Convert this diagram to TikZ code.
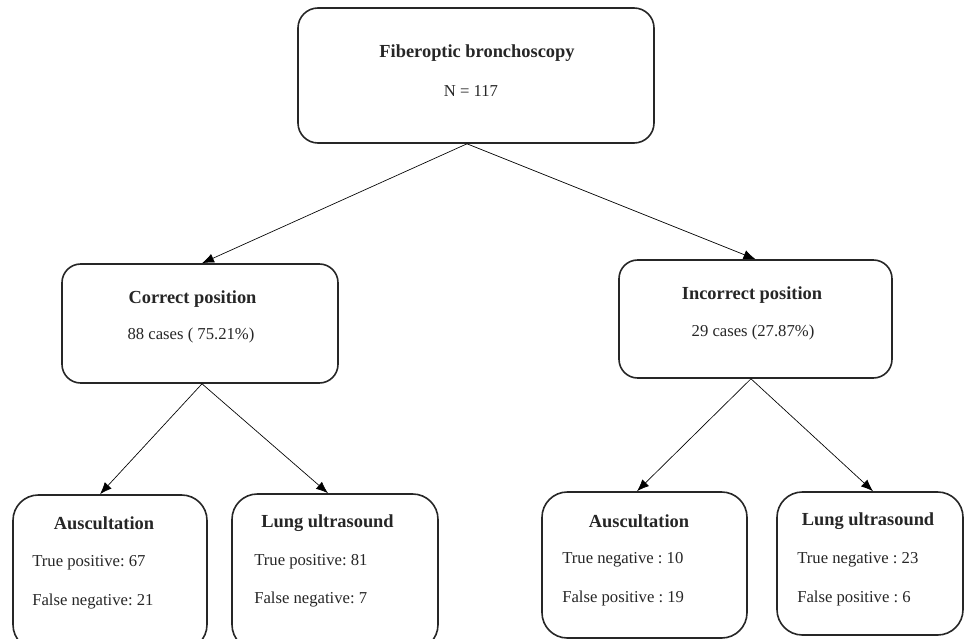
\documentclass[tikz,border=0pt]{standalone}
\usepackage{fontspec}
\setmainfont{Liberation Serif}
\usetikzlibrary{arrows.meta}
\frenchspacing
\tikzset{
  box/.style={draw=black!85, line width=1.2pt, inner sep=0pt, fill=white},
  ttl/.style={font=\fontsize{13.8}{16}\selectfont\bfseries, inner sep=0pt, text=black!85},
  txt/.style={font=\fontsize{12.5}{15}\selectfont, inner sep=0pt, text=black!85},
  ltxt/.style={txt, anchor=west},
  conn/.style={line width=0.5pt, -{Latex[length=9pt,width=7pt]}}
}
\begin{document}
\begin{tikzpicture}[x=0.75pt,y=-0.75pt]
\useasboundingbox (0,0) rectangle (964,639);
% boxes
\node[box, rounded corners=15pt, minimum width=267pt, minimum height=101.25pt] (top) at (476,75.5) {};
\node[box, rounded corners=14pt, minimum width=207pt, minimum height=89.25pt] (cor) at (200,323.5) {};
\node[box, rounded corners=14pt, minimum width=204.75pt, minimum height=88.5pt] (inc) at (755.5,319) {};
\node[box, rounded corners=19pt, minimum width=145.5pt, minimum height=116.25pt] (al) at (110,572.5) {};
\node[box, rounded corners=19pt, minimum width=154.5pt, minimum height=117pt] (ll) at (335,572) {};
\node[box, rounded corners=19pt, minimum width=153.75pt, minimum height=109.5pt] (ar) at (644.5,565) {};
\node[box, rounded corners=19pt, minimum width=139.5pt, minimum height=107.25pt] (lr) at (870,563.5) {};
% texts
\node[ttl] (topt) at (477,53) {Fiberoptic bronchoscopy};
\node[txt] (topn) at (471,91) {N = 117};
\node[ttl] (cort) at (192.5,299) {Correct position};
\node[txt] (corn) at (191,335) {88 cases ( 75.21\%)};
\node[ttl] (inct) at (752,295) {Incorrect position};
\node[txt] (incn) at (753,332) {29 cases (27.87\%)};
\node[ttl] (alt) at (104,523) {Auscultation};
\node[ltxt] (al1) at (32,563) {True positive: 67};
\node[ltxt] (al2) at (32,602) {False negative: 21};
\node[ttl] (llt) at (327.5,523) {Lung ultrasound};
\node[ltxt] (ll1) at (254,562) {True positive: 81};
\node[ltxt] (ll2) at (254,600) {False negative: 7};
\node[ttl] (art) at (639,521) {Auscultation};
\node[ltxt] (ar1) at (562,560) {True negative : 10};
\node[ltxt] (ar2) at (562,598) {False positive : 19};
\node[ttl] (lrt) at (868,521) {Lung ultrasound};
\node[ltxt] (lr1) at (797,560) {True negative : 23};
\node[ltxt] (lr2) at (797,598) {False positive : 6};
% connectors
\draw[conn] ([xshift=-6.75pt]top.south) -- ([xshift=1.5pt]cor.north);
\draw[conn] ([xshift=-6.75pt]top.south) -- (inc.north);
\draw[conn] ([xshift=1.5pt]cor.south) -- ([xshift=-7.5pt]al.north);
\draw[conn] ([xshift=1.5pt]cor.south) -- ([xshift=-5.25pt]ll.north);
\draw[conn] ([xshift=-3.4pt]inc.south) -- ([xshift=-5.6pt]ar.north);
\draw[conn] ([xshift=-3.4pt]inc.south) -- ([xshift=2.25pt]lr.north);
\end{tikzpicture}
\end{document}
